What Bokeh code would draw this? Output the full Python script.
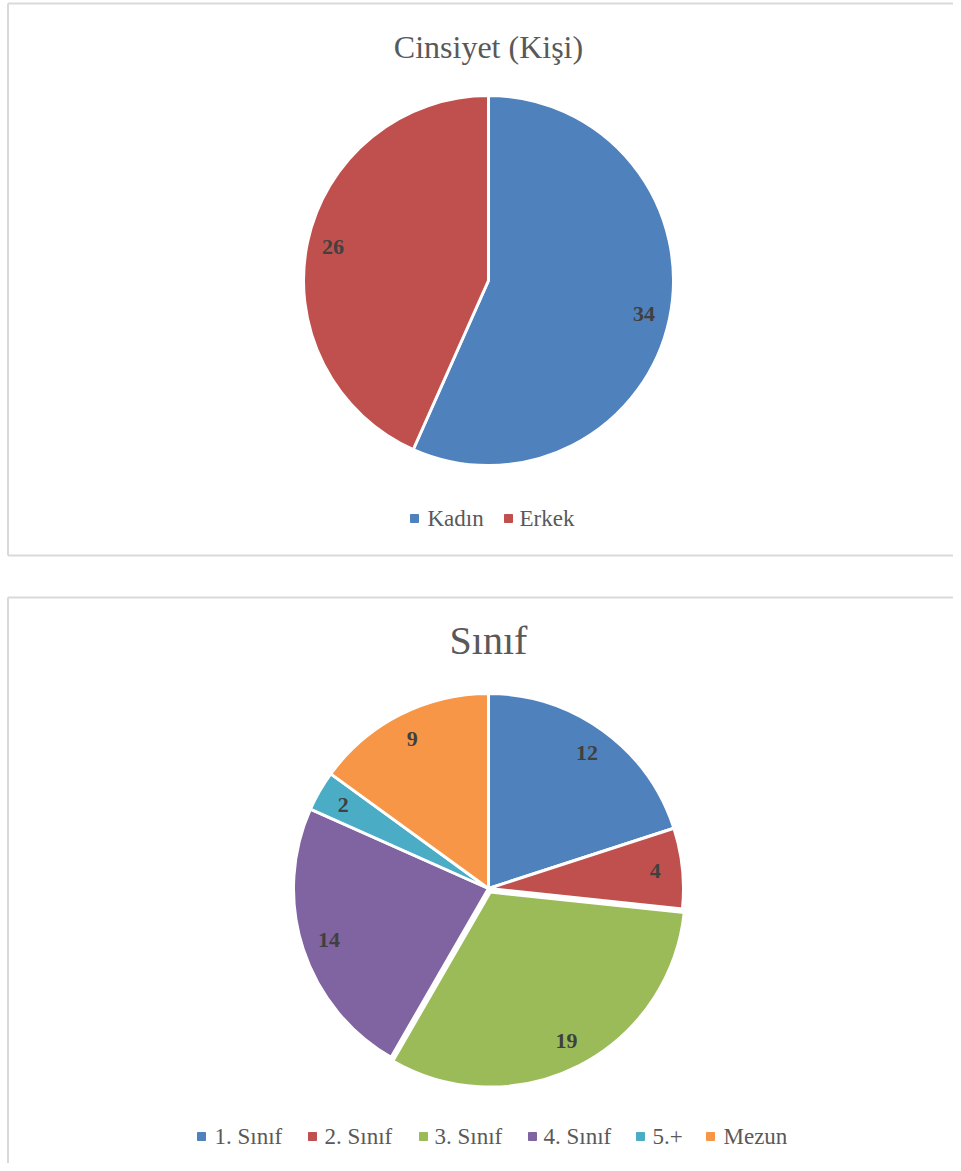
import math
from bokeh.plotting import figure
from bokeh.models import Range1d, ColumnDataSource
from bokeh.core.properties import value
from bokeh.embed import file_html
from bokeh.resources import INLINE

# ---- data ----
gender_labels = ["Kadın", "Erkek"]
gender_values = [34, 26]
gender_colors = ["#4F81BD", "#C0504D"]

class_labels = ["1. Sınıf", "2. Sınıf", "3. Sınıf", "4. Sınıf", "5.+", "Mezun"]
class_values = [12, 4, 19, 14, 2, 9]
class_colors = ["#4F81BD", "#C0504D", "#9BBB59", "#8064A2", "#4BACC6", "#F79646"]

title1 = "Cinsiyet (Kişi)"
title2 = "Sınıf"

# ---- layout (reference pixel coordinates) ----
W, H = 953, 1163
FONT = "Liberation Serif"


def Y(py):
    return H - py


p = figure(width=W, height=H, x_range=Range1d(0, W), y_range=Range1d(0, H),
           output_backend="svg", toolbar_location=None, min_border=0,
           background_fill_color="white", border_fill_color="white")
p.axis.visible = False
p.grid.visible = False
p.outline_line_color = None

BORDER = "#D9D9D9"
# chart boxes
p.line(x=[7.5, 7.5], y=[Y(3), Y(555)], line_color=BORDER, line_width=2)
p.line(x=[7.5, 961], y=[Y(3), Y(3)], line_color=BORDER, line_width=2)
p.line(x=[7.5, 961], y=[Y(555), Y(555)], line_color=BORDER, line_width=2)
p.line(x=[7.5, 7.5], y=[Y(597), Y(1171)], line_color=BORDER, line_width=2)
p.line(x=[7.5, 961], y=[Y(597), Y(597)], line_color=BORDER, line_width=2)


def draw_pie(values, colors, cx, cy_page, r, explode, label_frac):
    cy = Y(cy_page)
    total = float(sum(values))
    starts, ends, xs, ys, lx, ly, texts = [], [], [], [], [], [], []
    cum = 0.0
    for v, e in zip(values, explode):
        a0 = math.pi / 2 - 2 * math.pi * (cum + v) / total
        a1 = math.pi / 2 - 2 * math.pi * cum / total
        mid = (a0 + a1) / 2
        ox, oy = cx + e * math.cos(mid), cy + e * math.sin(mid)
        starts.append(a0)
        ends.append(a1)
        xs.append(ox)
        ys.append(oy)
        lx.append(ox + label_frac * r * math.cos(mid))
        ly.append(oy + label_frac * r * math.sin(mid))
        texts.append(str(v))
        cum += v
    src = ColumnDataSource(dict(x=xs, y=ys, s=starts, e=ends, c=colors,
                                lx=lx, ly=ly, t=texts))
    p.wedge(x="x", y="y", radius=r, start_angle="s", end_angle="e",
            fill_color="c", line_color="white", line_width=3, source=src)
    p.text(x="lx", y="ly", text="t", source=src, text_font=value(FONT),
           text_font_style="bold", text_font_size="22px", text_color="#404040",
           text_align="center", text_baseline="middle")


def draw_legend(labels, colors, marker_x, text_x, y_page):
    src = ColumnDataSource(dict(mx=marker_x, tx=text_x,
                                y=[Y(y_page)] * len(labels), c=colors, t=labels))
    p.scatter(x="mx", y="y", marker="square", size=8, fill_color="c",
              line_color="c", source=src)
    p.text(x="tx", y="y", text="t", source=src, text_font=value(FONT),
           text_font_size="23px", text_color="#595959",
           text_align="left", text_baseline="middle")


# ---- chart 1 ----
p.text(x=[488], y=[Y(46)], text=[title1], text_font=value(FONT),
       text_font_size="32px", text_color="#595959",
       text_align="center", text_baseline="middle")
draw_pie(gender_values, gender_colors, 488, 280, 185, [0, 0], 0.86)
draw_legend(gender_labels, gender_colors, [414, 508], [427, 519], 518)

# ---- chart 2 ----
p.text(x=[488], y=[Y(640)], text=[title2], text_font=value(FONT),
       text_font_size="40px", text_color="#595959",
       text_align="center", text_baseline="middle")
draw_pie(class_values, class_colors, 488, 888, 195, [0, 0, 4, 0, 0, 0], 0.86)
draw_legend(class_labels, class_colors,
            [201, 312, 423, 532, 640, 710],
            [214, 324, 434, 543, 652, 723], 1136)

open("out.html", "w").write(file_html(p, INLINE))
